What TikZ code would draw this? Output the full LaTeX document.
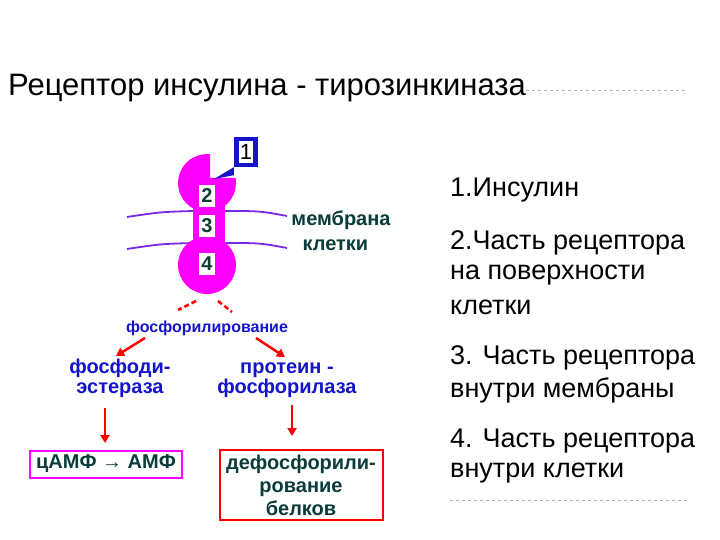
\documentclass[tikz,border=0pt]{standalone}
\usepackage{fontspec}
\setmainfont{Liberation Sans}
\usetikzlibrary{arrows.meta}
\definecolor{mag}{RGB}{255,0,255}
\definecolor{teal2}{RGB}{10,60,60}
\definecolor{dblue}{RGB}{20,20,200}
\definecolor{memb}{RGB}{120,40,230}
\begin{document}
\begin{tikzpicture}[x=1pt,y=-1pt,
  rt/.style={anchor=west,font=\fontsize{27}{29}\selectfont,inner sep=0pt},
  num/.style={fill=white,text=teal2,font=\bfseries\fontsize{20}{20}\selectfont,inner sep=1pt,minimum width=16pt,minimum height=22pt},
  bl/.style={text=dblue,font=\bfseries\fontsize{20}{20}\selectfont,align=center,inner sep=0pt},
  tl/.style={text=teal2,font=\bfseries\fontsize{20}{23}\selectfont,align=center,inner sep=0pt},
  rarr/.style={red,line width=2.5pt,-{Triangle[length=8pt,width=9pt]}},
  rdash/.style={red,line width=2.5pt,dash pattern=on 5pt off 3pt}]
\useasboundingbox (0,0) rectangle (720,540);
\node[anchor=west,inner sep=0pt,font=\fontsize{31}{33}\selectfont] (title) at (8,88) {Рецептор инсулина - тирозинкиназа};
\draw[gray!60,dashed] (title.east) ++(0,2) -- (688,90);
% right text
\node[rt] (t1) at (450,190) {1.Инсулин};
\node[rt] (t2) at (450,243) {2.Часть рецептора};
\node[rt] (t2b) at (450,275) {на поверхности};
\node[rt] (t2c) at (450,307) {клетки};
\node[rt] (t3) at (450,358) {3. Часть рецептора};
\node[rt] (t3b) at (450,390) {внутри мембраны};
\node[rt] (t4) at (450,441) {4. Часть рецептора};
\node[rt] (t4b) at (450,473) {внутри клетки};
\draw[gray!60,dashed] (450,500) -- (688,500);
% membrane
\draw[memb,line width=1.8pt] (127,217) .. controls (160,212) .. (193,211);
\draw[memb,line width=1.8pt] (225,211) .. controls (260,211) .. (287,216);
\draw[memb,line width=1.8pt] (127,249) .. controls (160,244) .. (193,243);
\draw[memb,line width=1.8pt] (225,243) .. controls (260,243) .. (287,248);
% receptor
\fill[mag] (210,178) -- (235.6,178) arc[start angle=-10,end angle=276,radius=29] -- cycle;
\fill[mag] (193,190) rectangle (225,255);
\fill[mag] (207,265) circle[radius=29];
\node[num] (n2) at (207,196) {2};
\node[num] (n3) at (207,226) {3};
\node[num] (n4) at (207,264) {4};
\node[fill=dblue,minimum width=24pt,minimum height=30pt,inner sep=0pt] (b1) at (246,152) {};
\node[fill=white,inner sep=1pt,minimum width=14pt,minimum height=22pt,font=\fontsize{22}{22}\selectfont] (n1) at (b1) {1};
\coordinate (tip) at (214,179);
\fill[dblue] (b1.south west) -- (tip) -- ([yshift=-8pt]b1.south west) -- cycle;
\node[text=teal2,font=\bfseries\fontsize{20}{25}\selectfont,align=left] (memtxt) at (341,231) {мембрана\\\ \ клетки};
% phosphorylation
\node[bl,font=\bfseries\fontsize{16}{16}\selectfont] (ph) at (207,328) {фосфорилирование};
\coordinate (d1a) at (196,301); \coordinate (d1b) at (178,310);
\coordinate (d2a) at (218,301); \coordinate (d2b) at (232,312);
\draw[rdash] (d1a) -- (d1b);
\draw[rdash] (d2a) -- (d2b);
\node[bl] (pde) at (120,378) {фосфоди-\\эстераза};
\node[bl] (pk) at (287,380) {протеин -\\фосфорилаза};
\coordinate (a1) at (145,338); \coordinate (a2) at (256,338);
\coordinate (a1e) at (116,356); \coordinate (a2e) at (285,357);
\draw[rarr] (a1) -- (a1e);
\draw[rarr] (a2) -- (a2e);
\node[draw=mag,line width=2pt,tl,minimum width=152pt,minimum height=27pt] (camp) at (106,464) {цАМФ → АМФ};
\node[draw=red,line width=2pt,tl,minimum width=163pt,minimum height=70pt] (dep) at (301,485) {дефосфорили-\\рование\\белков};
\coordinate (v1a) at (105,408); \coordinate (v1b) at (105,443);
\coordinate (v2a) at (292,405); \coordinate (v2b) at (292,436);
\draw[rarr] (v1a) -- (v1b);
\draw[rarr] (v2a) -- (v2b);
\end{tikzpicture}
\end{document}
